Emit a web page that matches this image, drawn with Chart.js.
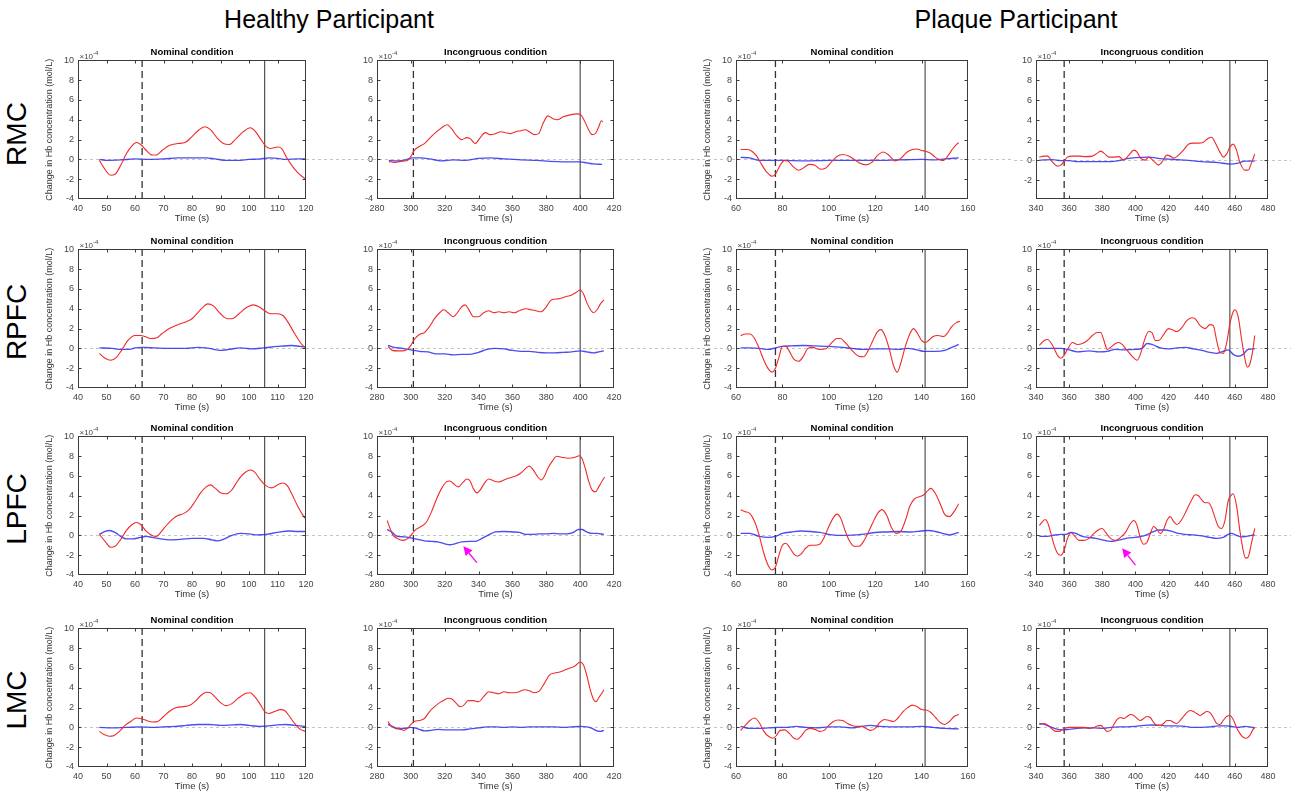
<!DOCTYPE html>
<html><head><meta charset="utf-8">
<script src="https://cdn.jsdelivr.net/npm/chart.js@4.4.1/dist/chart.umd.min.js"></script>
<style>
body{margin:0;background:#fff;width:1291px;height:800px;overflow:hidden;position:relative;font-family:"Liberation Sans",Arial,sans-serif}
canvas{position:absolute}
.hdr{position:absolute;font-size:25px;color:#000;transform:translate(-50%,-50%);white-space:nowrap}
.row{position:absolute;font-size:28px;color:#000;transform:translate(-50%,-50%) rotate(-90deg);white-space:nowrap}
</style></head><body>
<div class="hdr" style="left:329px;top:19px">Healthy Participant</div>
<div class="hdr" style="left:1016px;top:19px">Plaque Participant</div>
<script>
// ---------- labels ----------
const ROW_NAMES = ['RMC','RPFC','LPFC','LMC'];
const PANEL_TITLES = ['Nominal condition','Incongruous condition','Nominal condition','Incongruous condition'];
const Y_TITLE = 'Change in Hb concentration (mol/L)';
const X_TITLE = 'Time (s)';
// ---------- tick labels ----------
const X_TICKS_HN = [40,50,60,70,80,90,100,110,120];
const X_TICKS_HI = [280,300,320,340,360,380,400,420];
const X_TICKS_PN = [60,80,100,120,140,160];
const X_TICKS_PI = [340,360,380,400,420,440,460,480];
const Y_TICKS = [-4,-2,0,2,4,6,8,10];
const Y_TICKS_SHORT = [-2,0,2,4,6,8,10];
// ---------- event markers (s) ----------
const ONSET = [62.5, 301.5, 77, 357];     // dashed
const OFFSET = [105.5, 400, 141.5, 457];  // solid

// ---------- series (time s, value x1e-4 mol/L) ----------
// RMC
const RMC_HN_RED = [[47.5,-0.1],[49,-0.8],[51.5,-1.6],[53,-1.5],[55,-0.6],[57,0.6],[59,1.4],[60.5,1.7],[62,1.5],[64,0.9],[66,0.45],[67.5,0.45],[69.5,0.9],[72,1.4],[75,1.6],[77.5,1.7],[80,2.3],[82.5,3.0],[84.5,3.3],[86.5,3.0],[89,2.1],[91,1.6],[93,1.5],[95.5,2.1],[98,2.8],[100.5,3.2],[102,2.9],[104,2.1],[106,1.3],[107.5,1.1],[110,1.25],[111.5,1.1],[113,0.3],[115,-0.6],[117,-1.3],[119,-1.8],[120,-2.0]];
const RMC_HN_BLUE = [[47.5,0],[50,-0.1],[55,-0.05],[60,0.05],[65,0],[70,0.05],[75,0.15],[80,0.15],[85,0.15],[88,0.05],[92,-0.1],[96,-0.1],[100,0],[104,0.05],[107,0.15],[110,0.1],[113,0],[117,0.05],[120,0.05]];
const RMC_HI_RED = [[287,-0.2],[290,-0.3],[294,-0.2],[298,-0.1],[300,0.3],[302,0.9],[305,1.3],[308,1.6],[312,2.3],[316,2.9],[319,3.3],[321.5,3.5],[324,3.1],[327,2.4],[330,2.0],[333,2.2],[335,2.1],[338,1.6],[341,2.2],[344,2.7],[347,2.5],[350,2.6],[353,2.8],[356,2.7],[359,2.6],[362,2.8],[365,2.9],[367.5,3.0],[370,2.8],[373,2.5],[375.5,2.6],[378,3.6],[381,4.4],[384,4.1],[386.5,4.0],[390,4.3],[394,4.5],[398,4.6],[400.5,4.5],[402.5,3.9],[405,3.0],[407,2.5],[409,2.6],[411,3.3],[412.5,3.9],[413.5,3.8]];
const RMC_HI_BLUE = [[287,-0.1],[292,-0.15],[297,-0.05],[301,0.15],[306,0.15],[311,0.05],[318,-0.15],[325,-0.05],[332,-0.1],[340,0.1],[347,0.15],[355,0.05],[365,-0.05],[375,-0.1],[382,-0.2],[390,-0.25],[400,-0.25],[404,-0.35],[408,-0.45],[413,-0.5]];
const RMC_PN_RED = [[62,1.0],[65,1.0],[67,0.8],[69,0.3],[71,-0.5],[73,-1.2],[75.5,-1.7],[77,-1.5],[79,-0.6],[81,-0.1],[82.5,-0.2],[85,-0.8],[87,-1.1],[89.5,-0.8],[91.5,-0.5],[94,-0.6],[96.5,-1.0],[98.5,-0.9],[101,-0.3],[103.5,0.3],[106,0.5],[108.5,0.35],[111,0.0],[113.5,-0.4],[116,-0.55],[118.5,-0.3],[121,0.4],[123.5,0.75],[126,0.4],[128.5,-0.15],[131,0.1],[133.5,0.7],[136,1.0],[138,1.05],[140,0.9],[142,0.8],[144,0.6],[146,0.2],[148,-0.05],[149.5,-0.1],[151.5,0.4],[153.5,1.1],[155,1.5],[156,1.7]];
const RMC_PN_BLUE = [[62,0.2],[66,0.15],[70,-0.1],[80,-0.1],[90,-0.15],[100,-0.1],[110,-0.1],[120,-0.1],[130,-0.05],[140,0],[145,-0.05],[150,0.05],[156,0.15]];
const RMC_PI_RED = [[342,0.3],[345,0.4],[347,0.4],[350,-0.2],[353,-0.6],[355,-0.5],[357,-0.1],[359,0.3],[362,0.4],[366,0.4],[370,0.35],[374,0.4],[377,0.7],[379,0.9],[381,0.7],[384,0.3],[387,0.3],[390,0.35],[393,0.0],[396,0.5],[399,1.0],[401,0.8],[403,0.2],[406,0.0],[408,0.3],[411,-0.1],[414,-0.5],[416,-0.2],[419,0.5],[421,0.4],[423,0.2],[426,0.5],[429,1.0],[432,1.6],[435,1.7],[438,1.7],[441,1.8],[444,2.2],[446,2.3],[448,1.8],[451,0.8],[453,0.3],[455,0.6],[457,1.3],[459,1.6],[461,1.0],[463,-0.2],[466,-1.0],[468,-1.0],[470,-0.3],[472,0.6]];
const RMC_PI_BLUE = [[342,0],[350,0.05],[355,-0.05],[360,-0.05],[365,-0.15],[375,-0.15],[385,-0.15],[390,-0.05],[395,0.15],[400,0.25],[408,0.3],[415,0.15],[420,0.1],[430,0],[440,-0.15],[450,-0.25],[457,-0.4],[462,-0.3],[466,-0.1],[472,-0.1]];
// RPFC
const RPFC_HN_RED = [[47.5,-0.5],[49.5,-1.0],[51.5,-1.2],[53.5,-0.9],[55.5,-0.1],[57.5,0.8],[60,1.3],[62,1.3],[63.5,1.2],[65.5,1.0],[67.5,1.05],[69.5,1.5],[72,2.0],[75,2.4],[78,2.7],[80,3.0],[82,3.6],[84,4.2],[85.5,4.5],[87.5,4.3],[90,3.5],[92.5,3.0],[94,3.0],[96.5,3.5],[99,4.1],[101.5,4.4],[103.5,4.2],[105.5,3.8],[107.5,3.5],[110,3.5],[112,3.3],[114,2.5],[116,1.5],[118,0.6],[119.5,0.1]];
const RPFC_HN_BLUE = [[47.5,0.05],[52,0],[55,-0.1],[58,-0.1],[60,0.05],[63,0.1],[67,0.05],[72,0],[78,0],[82,0.1],[86,0],[90,-0.2],[93,-0.1],[97,0.05],[101,-0.05],[105,0.05],[110,0.2],[115,0.3],[118,0.2],[120,0.15]];
const RPFC_HI_RED = [[286.5,0.2],[289,-0.2],[292,-0.25],[295,-0.25],[298,-0.1],[300,0.3],[302,0.9],[305,1.4],[308,1.6],[311,2.2],[314,3.0],[317,3.6],[319.5,3.9],[322,3.6],[325,3.2],[327,3.5],[330,4.2],[332,4.4],[334,4.0],[337,3.2],[340,3.2],[343,3.6],[346,3.8],[349,3.6],[352,3.7],[355,3.6],[358,3.7],[361,3.6],[364,3.8],[368,4.0],[371,3.9],[374,3.8],[377,3.7],[380,4.2],[383,4.9],[387,5.0],[391,5.2],[395,5.4],[398,5.7],[400,5.9],[402,5.5],[404,4.6],[406.5,3.8],[408,3.6],[410,3.9],[412,4.5],[414,4.9]];
const RPFC_HI_BLUE = [[286.5,0.3],[290,0.1],[295,0],[300,-0.15],[305,-0.3],[310,-0.35],[315,-0.55],[320,-0.55],[325,-0.65],[330,-0.6],[335,-0.6],[340,-0.4],[345,-0.1],[350,0],[355,-0.05],[360,-0.2],[365,-0.3],[370,-0.3],[375,-0.4],[380,-0.45],[385,-0.45],[390,-0.4],[395,-0.35],[400,-0.25],[404,-0.35],[408,-0.45],[411,-0.35],[414,-0.25]];
const RPFC_PN_RED = [[62,1.3],[64,1.45],[66,1.45],[68,1.0],[70,0.0],[72,-1.2],[74,-2.1],[75.5,-2.4],[77,-2.0],[78.5,-0.9],[80,0.2],[81.5,0.2],[83,-0.3],[85,-1.1],[87,-1.3],[89,-0.8],[91,0.0],[93,0.1],[96,-0.1],[99,0.0],[101,0.5],[103.5,1.0],[105,1.0],[107,0.6],[110,-0.2],[113,-0.8],[115,-0.85],[117,-0.2],[119,0.8],[121,1.7],[122.5,1.9],[124,1.4],[126,0.0],[128,-1.8],[129.5,-2.4],[131,-1.5],[133,0.2],[135,1.5],[136.5,2.0],[138,1.6],[140,0.8],[141.5,0.6],[143,0.8],[145,1.2],[147,1.3],[149.5,1.2],[151,1.5],[153,2.2],[155,2.6],[156.5,2.75]];
const RPFC_PN_BLUE = [[62,0.05],[66,0.05],[70,0],[74,-0.1],[77,0.05],[80,0.2],[84,0.25],[89,0.3],[94,0.25],[100,0.2],[106,0.1],[110,0],[115,-0.1],[120,-0.05],[125,-0.05],[130,-0.1],[134,0],[138,-0.15],[141,-0.3],[146,-0.3],[150,-0.2],[153,0.1],[156,0.4]];
const RPFC_PI_RED = [[342,0.3],[345,0.8],[347,0.9],[350,0.3],[353,-0.7],[355,-1.0],[357,-0.7],[359,-0.1],[362,0.6],[365,0.4],[368,0.5],[371,0.8],[374,1.3],[377,1.6],[379,1.6],[381,0.8],[383,-0.1],[385,0.1],[388,0.5],[390,0.6],[392,0.4],[395,-0.2],[398,-0.8],[401,-1.2],[403,-0.6],[405,0.6],[408,1.7],[410,1.6],[412,0.8],[414,0.8],[417,1.4],[420,2.0],[422,1.9],[425,1.7],[428,2.1],[431,2.8],[434,3.1],[436,3.0],[439,2.3],[442,2.0],[445,2.4],[447,2.3],[449,0.8],[451,-0.4],[453,-0.5],[455,0.5],[457,2.5],[459,3.7],[460,3.9],[462,3.2],[464,1.0],[466,-1.0],[467.5,-1.9],[469,-1.6],[471,0.0],[472,1.3]];
const RPFC_PI_BLUE = [[342,0],[350,0],[355,0],[360,-0.15],[365,-0.35],[372,-0.25],[378,-0.35],[383,-0.3],[388,-0.1],[393,-0.15],[400,-0.1],[404,0],[407,0.5],[410,0.4],[415,0.05],[420,-0.05],[425,0.05],[430,0.1],[435,-0.05],[440,-0.2],[445,-0.4],[449,-0.5],[453,-0.3],[456,-0.15],[459,-0.6],[462,-0.8],[465,-0.6],[468,-0.1],[472,-0.05]];
// LPFC
const LPFC_HN_RED = [[47.5,0.1],[49.5,-0.6],[51.5,-1.2],[53,-1.1],[55,-0.4],[57,0.5],[59,1.1],[60.5,1.3],[62,1.1],[64,0.4],[66,0.0],[67.5,-0.1],[69,0.3],[71,1.0],[73,1.6],[75,2.0],[77,2.2],[79,2.6],[81,3.4],[83,4.3],[85,4.9],[86.5,5.1],[88,4.8],[90,4.3],[92,4.2],[94,4.6],[96,5.5],[98,6.2],[100.5,6.6],[102,6.4],[104,5.6],[106,5.0],[108,4.8],[110,5.1],[112,5.3],[113.5,5.0],[115,4.2],[117,3.0],[119,2.0],[120,1.6]];
const LPFC_HN_BLUE = [[47.5,0.1],[49.5,0.4],[51,0.5],[53,0.3],[55,-0.1],[57,-0.35],[59,-0.35],[62,-0.2],[64,-0.1],[66,-0.2],[69,-0.35],[72,-0.45],[76,-0.4],[80,-0.3],[84,-0.3],[87,-0.45],[89,-0.55],[91,-0.4],[94,0],[97,0.2],[100,0.15],[103,0.05],[106,0.1],[110,0.3],[114,0.45],[117,0.4],[120,0.4]];
const LPFC_HI_RED = [[286,1.5],[287.5,0.8],[289.5,0.0],[292,-0.3],[295,-0.5],[297,-0.45],[299,-0.2],[301,0.2],[303,0.6],[306,0.9],[309,1.3],[312,2.3],[315,3.6],[318,4.7],[321,5.4],[323,5.5],[326,5.1],[328,4.9],[331,5.4],[333,5.7],[335,5.5],[337,4.7],[339,4.3],[341,4.6],[344,5.4],[346,5.7],[349,5.5],[352,5.4],[355,5.6],[358,5.8],[362,6.0],[365,6.3],[368,6.8],[370,7.0],[372,6.7],[375,5.9],[377,5.6],[379,6.0],[381,6.8],[384,7.6],[386,8.0],[389,7.9],[393,7.8],[397,7.9],[399.5,8.05],[401,7.8],[403,6.8],[405,5.5],[407,4.6],[409,4.4],[411,4.9],[413,5.5],[414.5,5.9]];
const LPFC_HI_BLUE = [[286,0.6],[289,0.3],[292,-0.1],[296,-0.15],[300,-0.25],[304,-0.4],[308,-0.55],[312,-0.6],[316,-0.65],[320,-0.85],[323,-0.95],[326,-0.85],[330,-0.65],[335,-0.6],[338,-0.6],[342,-0.3],[346,0.05],[350,0.35],[355,0.4],[360,0.35],[364,0.3],[368,0.1],[372,0.1],[376,0.15],[380,0.15],[384,0.2],[388,0.15],[392,0.15],[396,0.3],[399,0.6],[401,0.6],[404,0.35],[407,0.2],[410,0.2],[414,0.1]];
const LPFC_PN_RED = [[62,2.6],[64,2.4],[66,2.2],[68,1.4],[70,0.0],[72,-1.8],[74,-3.1],[75.5,-3.5],[77,-3.2],[78.5,-2.0],[80,-1.0],[81.5,-0.8],[83,-1.2],[85,-1.9],[86.5,-2.1],[88,-1.9],[90,-1.3],[92,-1.0],[94,-1.0],[96,-0.9],[98,-0.2],[100,0.9],[102,1.8],[103.5,2.15],[105,1.8],[107,0.5],[109,-0.6],[111,-1.1],[113,-1.1],[115,-0.6],[117,0.3],[119,1.3],[121,2.2],[123,2.6],[125,2.0],[127,0.8],[129,0.2],[131,0.4],[133,1.5],[135,3.0],[137,3.7],[139,3.9],[141,4.1],[143,4.6],[144,4.75],[146,4.2],[148,3.2],[150,2.1],[152,1.9],[154,2.4],[156,3.2]];
const LPFC_PN_BLUE = [[62,0.2],[66,0.2],[70,-0.1],[74,-0.2],[77,-0.1],[80,0.2],[84,0.35],[88,0.45],[92,0.4],[96,0.3],[100,0.1],[104,0],[108,0],[112,0.05],[116,0.15],[120,0.3],[125,0.35],[130,0.4],[135,0.35],[140,0.45],[143,0.5],[146,0.4],[150,0.15],[152,0.05],[154,0.15],[156,0.3]];
const LPFC_PI_RED = [[342,1.0],[344,1.4],[345.5,1.6],[347,1.3],[349,0.2],[351,-1.0],[353,-1.8],[355,-2.0],[357,-1.5],[359,-0.3],[361,0.3],[363,0.0],[366,-0.5],[369,-0.5],[372,-0.3],[375,0.2],[378,0.6],[380,0.7],[382,0.3],[385,-0.3],[388,-0.5],[391,-0.2],[394,0.3],[397,1.2],[399,1.5],[401,1.0],[403,-0.3],[405,-0.9],[407,-0.7],[409,0.2],[411,0.9],[413,0.6],[415,0.2],[417,0.6],[419,1.5],[421,1.9],[423,1.4],[425,1.1],[428,1.6],[431,2.6],[434,3.6],[436,4.1],[438,4.0],[440,3.6],[442,3.3],[444,3.3],[446,2.8],[448,1.8],[450,0.9],[452,0.7],[454,1.5],[456,3.5],[458,4.1],[459,4.2],[461,3.0],[463,0.5],[465,-1.5],[466.5,-2.3],[468,-2.2],[470,-0.8],[472,0.7]];
const LPFC_PI_BLUE = [[342,-0.1],[346,-0.1],[350,0],[355,0.1],[358,0.1],[361,0.3],[364,0.2],[368,-0.1],[372,-0.2],[376,-0.3],[380,-0.45],[385,-0.6],[388,-0.55],[392,-0.4],[396,-0.25],[400,-0.2],[405,-0.05],[410,0.3],[414,0.55],[418,0.55],[422,0.4],[426,0.2],[430,0.1],[435,0.05],[440,-0.05],[445,-0.2],[449,-0.3],[453,-0.2],[456,0.1],[458,0.2],[461,0],[464,-0.15],[467,-0.1],[470,0],[472,0.05]];
// LMC
const LMC_HN_RED = [[47.5,-0.4],[49,-0.7],[51,-0.9],[52.5,-0.85],[54.5,-0.4],[56.5,0.2],[58.5,0.6],[60.5,0.95],[62,0.9],[64,0.7],[66,0.55],[68,0.6],[70,1.1],[72,1.6],[74.5,2.0],[77,2.1],[79,2.2],[81,2.6],[83,3.2],[85,3.55],[86.5,3.5],[88,3.1],[90,2.5],[92,2.2],[94,2.4],[96,2.9],[98.5,3.4],[100.5,3.5],[102,3.1],[104,2.3],[105.5,1.6],[107,1.4],[109,1.6],[111,1.8],[112.5,1.7],[114,1.2],[116,0.4],[118,-0.2],[120,-0.4]];
const LMC_HN_BLUE = [[47.5,0],[52,-0.05],[57,0],[62,0.05],[66,0],[70,0.05],[74,0.1],[78,0.2],[82,0.3],[86,0.3],[90,0.2],[94,0.25],[97,0.3],[100,0.2],[104,0.1],[107,0.15],[110,0.25],[113,0.3],[116,0.2],[120,0.1]];
const LMC_HI_RED = [[286.5,0.6],[288,0.2],[291,-0.1],[294,-0.2],[296,-0.3],[298,-0.1],[300,0.3],[302,0.6],[305,0.7],[308,0.9],[311,1.6],[314,2.1],[317,2.5],[320,2.8],[322,2.95],[324,2.9],[327,2.4],[329,2.1],[331,2.2],[334,2.7],[337,2.7],[340,2.6],[343,3.1],[346,3.6],[349,3.5],[352,3.4],[355,3.6],[358,3.5],[361,3.5],[364,3.6],[367,3.8],[370,3.7],[373,3.5],[376,3.7],[379,4.5],[382,5.3],[385,5.5],[388,5.6],[391,5.8],[394,6.0],[397,6.2],[400,6.6],[402,6.3],[404,5.2],[406,3.8],[408,2.8],[409.5,2.6],[411,3.0],[413,3.5],[414,3.8]];
const LMC_HI_BLUE = [[286.5,0.3],[289,0.1],[292,-0.1],[296,-0.1],[300,0],[302,-0.05],[305,-0.2],[308,-0.35],[312,-0.3],[316,-0.2],[320,-0.25],[325,-0.25],[330,-0.25],[335,-0.15],[340,-0.05],[345,0.05],[350,0.05],[355,0],[360,0.05],[365,0],[370,0.05],[375,0.05],[380,0.05],[385,0.05],[390,0],[395,0.05],[400,0.1],[404,0.05],[407,-0.1],[410,-0.35],[412,-0.4],[414,-0.3]];
const LMC_PN_RED = [[62,-0.3],[64,0.2],[66,0.7],[68,0.95],[70,0.5],[72,-0.4],[74,-0.9],[76,-1.1],[77.5,-0.8],[79,-0.3],[81,-0.25],[83,-0.6],[85,-1.1],[86.5,-1.2],[88,-0.9],[90,-0.3],[92,-0.1],[94,-0.2],[96,-0.4],[98,-0.3],[100,0.2],[102,0.6],[104,0.75],[106,0.7],[108,0.4],[110,0.2],[112,0.1],[114,0.1],[116,-0.1],[118,-0.3],[120,-0.1],[122,0.5],[124,0.8],[126,0.7],[128,0.6],[130,1.0],[132,1.6],[134,2.0],[136,2.25],[138,2.1],[140,1.8],[142,1.75],[144,1.5],[146,1.0],[148,0.5],[150,0.3],[152,0.6],[154,1.1],[156,1.3]];
const LMC_PN_BLUE = [[62,0.1],[66,-0.1],[70,-0.1],[74,-0.05],[78,0],[82,0],[86,0.1],[90,0],[95,-0.05],[100,0.05],[105,0.05],[110,-0.05],[114,0.1],[118,0.2],[122,0.1],[126,0.05],[130,0.05],[135,0.05],[140,0.1],[145,0],[150,-0.1],[156,-0.15]];
const LMC_PI_RED = [[342,0.3],[344,0.4],[346,0.35],[348,0.1],[350,-0.2],[352,-0.4],[354,-0.4],[356,-0.2],[358,-0.05],[360,0],[363,0],[366,0],[369,0],[372,-0.1],[375,0],[377,0.15],[379,0.2],[381,-0.1],[383,-0.4],[385,-0.3],[387,0.3],[389,0.8],[391,1.0],[393,0.9],[395,1.1],[397,1.3],[399,1.2],[401,0.9],[403,0.7],[405,0.9],[407,1.1],[409,1.0],[411,0.5],[413,0.2],[415,0.2],[417,0.4],[419,0.7],[421,0.7],[423,0.5],[425,0.4],[427,0.7],[429,1.1],[431,1.5],[433,1.7],[435,1.6],[437,1.4],[439,1.2],[441,1.4],[443,1.6],[445,1.5],[447,1.0],[449,0.4],[451,0.3],[453,0.7],[455,1.1],[457,1.2],[459,0.8],[461,0],[463,-0.6],[465,-1.0],[467,-1.1],[469,-0.8],[471,-0.2],[472,0]];
const LMC_PI_BLUE = [[342,0.4],[345,0.3],[348,0.1],[352,-0.15],[356,-0.25],[360,-0.2],[365,-0.1],[370,-0.05],[375,-0.05],[380,-0.1],[385,0],[390,0.05],[395,0.05],[400,0.1],[405,0.2],[410,0.25],[415,0.2],[420,0.15],[425,0.15],[430,0.1],[435,0],[440,0],[445,0.05],[450,0.15],[455,0.15],[458,0.1],[462,0],[466,0.1],[469,0.05],[472,-0.05]];

// arrows (data coords): [row, col, fromT, fromV, toT, toV]
const ARROW_LPFC_HI = [2, 1, 339, -2.75, 331, -1.1];
const ARROW_LPFC_PI = [2, 3, 400, -3.0, 392, -1.3];

// ---------- assembly ----------
const RED = [
  [RMC_HN_RED, RMC_HI_RED, RMC_PN_RED, RMC_PI_RED],
  [RPFC_HN_RED, RPFC_HI_RED, RPFC_PN_RED, RPFC_PI_RED],
  [LPFC_HN_RED, LPFC_HI_RED, LPFC_PN_RED, LPFC_PI_RED],
  [LMC_HN_RED, LMC_HI_RED, LMC_PN_RED, LMC_PI_RED]];
const BLUE = [
  [RMC_HN_BLUE, RMC_HI_BLUE, RMC_PN_BLUE, RMC_PI_BLUE],
  [RPFC_HN_BLUE, RPFC_HI_BLUE, RPFC_PN_BLUE, RPFC_PI_BLUE],
  [LPFC_HN_BLUE, LPFC_HI_BLUE, LPFC_PN_BLUE, LPFC_PI_BLUE],
  [LMC_HN_BLUE, LMC_HI_BLUE, LMC_PN_BLUE, LMC_PI_BLUE]];
const X_TICKS = [X_TICKS_HN, X_TICKS_HI, X_TICKS_PN, X_TICKS_PI];
const ARROWS = [ARROW_LPFC_HI, ARROW_LPFC_PI];

// layout geometry (pixels)
const FONT = '"Liberation Sans", Arial, Helvetica, sans-serif';
Chart.defaults.font.family = FONT;
const ROW_TOP = [60, 249, 436, 628];
const ROW_LABEL_Y = [134, 322, 509, 700];
const COL = [
  {boxL:78,  boxR:306,  yW:34},
  {boxL:377, boxR:614,  yW:22},
  {boxL:736, boxR:968,  yW:34},
  {boxL:1036,boxR:1268, yW:22}];
COL.forEach((c,i)=>{ c.cl = c.boxL - c.yW; });
COL.forEach((c,i)=>{ c.cr = i<3 ? COL[i+1].cl : 1291; c.cw = c.cr - c.cl; c.pr = c.cr - c.boxR; });

ROW_NAMES.forEach((n,r)=>{
  const d = document.createElement('div');
  d.className = 'row'; d.textContent = n;
  d.style.left = '17px'; d.style.top = ROW_LABEL_Y[r] + 'px';
  document.body.appendChild(d);
});

const framePlugin = {
  id: 'frame',
  beforeDatasetsDraw(chart, args, o) {
    const {ctx, chartArea: a, scales: {y}} = chart;
    const y0 = Math.round(y.getPixelForValue(0)) + 0.5;
    ctx.save();
    ctx.strokeStyle = '#c4c4c4'; ctx.lineWidth = 1; ctx.setLineDash([3, 3]);
    ctx.beginPath(); ctx.moveTo(o.fromLeft ? 0 : a.left, y0); ctx.lineTo(chart.width, y0); ctx.stroke();
    ctx.restore();
  },
  afterDatasetsDraw(chart, args, o) {
    const {ctx, chartArea: a, scales: {x, y}} = chart;
    ctx.save();
    const L = Math.round(a.left) + 0.5, R = Math.round(a.right) - 0.5;
    const T = Math.round(a.top) + 0.5, B = Math.round(a.bottom) - 0.5;
    ctx.strokeStyle = '#3a3a3a'; ctx.lineWidth = 1;
    ctx.strokeRect(L, T, R - L, B - T);
    ctx.beginPath();
    x.ticks.forEach(t => {
      const px = Math.round(x.getPixelForValue(t.value)) + 0.5;
      if (px <= L + 1 || px >= R - 1) return;
      ctx.moveTo(px, B); ctx.lineTo(px, B - 3);
      ctx.moveTo(px, T); ctx.lineTo(px, T + 3);
    });
    y.ticks.forEach(t => {
      const py = Math.round(y.getPixelForValue(t.value)) + 0.5;
      if (py <= T + 1 || py >= B - 1) return;
      ctx.moveTo(L, py); ctx.lineTo(L + 3, py);
      ctx.moveTo(R, py); ctx.lineTo(R - 3, py);
    });
    ctx.stroke();
    // exponent label
    ctx.fillStyle = '#444';
    ctx.textBaseline = 'alphabetic'; ctx.textAlign = 'left';
    ctx.font = '8px ' + FONT;
    ctx.fillText('\u00d710', L + 1, T - 2);
    const w = ctx.measureText('\u00d710').width;
    ctx.font = '6px ' + FONT;
    ctx.fillText('-4', L + 1 + w, T - 6);
    // arrows
    (o.arrows || []).forEach(ar => {
      const ax = x.getPixelForValue(ar[2]), ay = y.getPixelForValue(ar[3]);
      const bx = x.getPixelForValue(ar[4]), by = y.getPixelForValue(ar[5]);
      const ang = Math.atan2(by - ay, bx - ax), hl = 9, hw = 4.5;
      const cx = bx - hl * Math.cos(ang), cy = by - hl * Math.sin(ang);
      ctx.strokeStyle = '#ff00ff'; ctx.fillStyle = '#ff00ff'; ctx.lineWidth = 1.3;
      ctx.beginPath(); ctx.moveTo(ax, ay); ctx.lineTo(cx, cy); ctx.stroke();
      ctx.beginPath(); ctx.moveTo(bx, by);
      ctx.lineTo(cx + hw * Math.sin(ang), cy - hw * Math.cos(ang));
      ctx.lineTo(cx - hw * Math.sin(ang), cy + hw * Math.cos(ang));
      ctx.closePath(); ctx.fill();
    });
    ctx.restore();
  }
};

const pts = arr => arr.map(p => ({x: p[0], y: p[1]}));
const vline = (t, lo, hi) => [{x: t, y: lo}, {x: t, y: hi}];

for (let r = 0; r < 4; r++) {
  for (let c = 0; c < 4; c++) {
    const g = COL[c];
    const cv = document.createElement('canvas');
    cv.width = g.cw; cv.height = 185;
    cv.style.left = g.cl + 'px'; cv.style.top = (ROW_TOP[r] - 17) + 'px';
    document.body.appendChild(cv);
    const xt = X_TICKS[c];
    const shortY = (r === 0 && c === 3);
    const ymin = shortY ? -3.9 : -4;
    const yt = shortY ? Y_TICKS_SHORT : Y_TICKS;
    new Chart(cv, {
      type: 'line',
      data: { datasets: [
        {data: pts(RED[r][c]), borderColor: '#f02a2a', borderWidth: 1.1, pointRadius: 0, cubicInterpolationMode: 'monotone', order: 1},
        {data: pts(BLUE[r][c]), borderColor: 'rgba(45,45,240,0.85)', borderWidth: 1.4, pointRadius: 0, cubicInterpolationMode: 'monotone', order: 2},
        {data: vline(ONSET[c], ymin, 10), borderColor: '#333', borderWidth: 1.3, borderDash: [7, 4], pointRadius: 0, order: 3},
        {data: vline(OFFSET[c], ymin, 10), borderColor: '#333', borderWidth: 1, pointRadius: 0, order: 3}
      ]},
      options: {
        responsive: false, animation: false, devicePixelRatio: 1,
        events: [],
        layout: {padding: {left: 0, right: g.pr, top: 4, bottom: 4}},
        plugins: {
          legend: {display: false}, tooltip: {enabled: false},
          title: {display: true, text: PANEL_TITLES[c], fullSize: false, color: '#000',
                  font: {size: 9.5, weight: 'bold', family: FONT}, padding: {top: 0, bottom: 2}},
          frame: {fromLeft: c > 0, arrows: ARROWS.filter(a => a[0] === r && a[1] === c)}
        },
        scales: {
          x: {type: 'linear', min: xt[0], max: xt[xt.length - 1],
              afterBuildTicks: s => { s.ticks = xt.map(v => ({value: v})); },
              afterFit: s => { s.height = 25; },
              grid: {display: false, drawTicks: false}, border: {display: false},
              ticks: {padding: 4, autoSkip: false, maxRotation: 0, color: '#444', font: {size: 9, family: FONT}},
              title: {display: true, text: X_TITLE, padding: 0, color: '#333', font: {size: 9.5, family: FONT}}},
          y: {type: 'linear', min: ymin, max: 10,
              afterBuildTicks: s => { s.ticks = yt.map(v => ({value: v})); },
              afterFit: s => { s.width = g.yW; },
              grid: {display: false, drawTicks: false}, border: {display: false},
              ticks: {padding: 4, autoSkip: false, color: '#444', font: {size: 9, family: FONT}},
              title: {display: c % 2 === 0, text: Y_TITLE, padding: 0, color: '#333', font: {size: 9, family: FONT}}}
        }
      },
      plugins: [framePlugin]
    });
  }
}
</script>
</body></html>
